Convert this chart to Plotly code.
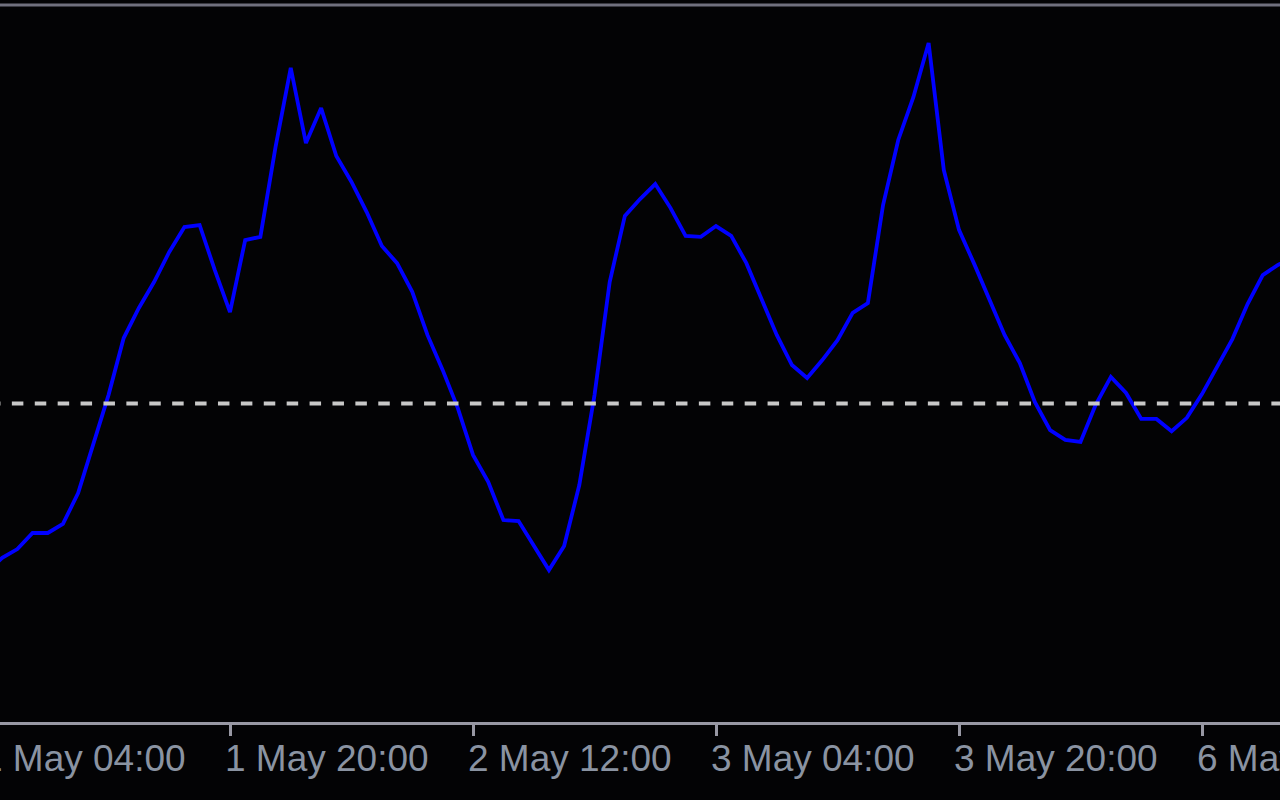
import plotly.graph_objects as go

# Bar index (hourly bars, weekend skipped) and indicator values
bars = list(range(0, 87))
values = [
    -48.1, -44.1, -41.6, -37.0, -37.0, -34.4, -25.6, -11.9, 2.4, 18.7,
    27.3, 34.7, 43.3, 50.4, 51.0, 38.1, 26.1, 46.7, 47.6, 73.3,
    95.9, 74.4, 84.4, 70.7, 63.3, 54.7, 45.0, 40.1, 31.9, 19.6,
    9.6, -1.3, -14.7, -22.4, -33.3, -33.6, -40.4, -47.6, -40.7, -23.3,
    2.4, 34.7, 53.6, 58.4, 62.7, 55.9, 47.9, 47.6, 50.7, 47.9,
    40.1, 30.1, 19.6, 11.0, 7.3, 12.4, 18.1, 25.9, 28.7, 56.7,
    75.3, 87.6, 103.0, 66.7, 49.6, 39.9, 29.6, 19.6, 11.6, 0.4,
    -7.6, -10.4, -11.0, -0.4, 7.6, 3.0, -4.4, -4.4, -7.9, -4.1,
    2.7, 10.4, 18.4, 28.4, 36.7, 39.6, 41.6,
]

tick_bars = [0, 16, 32, 48, 64, 80]
tick_labels = ["1 May 04:00", "1 May 20:00", "2 May 12:00",
               "3 May 04:00", "3 May 20:00", "6 May 12:00"]
level = 0.0

X_RANGE = [0.856, 85.136]
BG = "#030305"
AXIS = "#9898a4"
TEXT = "#8a93a2"

fig = go.Figure()
fig.add_trace(go.Scatter(x=bars, y=values, mode="lines",
                         line=dict(color="#0000ff", width=3.8),
                         hoverinfo="skip", showlegend=False))

fig.add_shape(type="line", xref="x", yref="y", x0=0.13, x1=90, y0=level, y1=level,
              line=dict(color="#c8c8c8", width=4, dash="11.5px,11.4px"))
fig.add_shape(type="line", xref="paper", yref="paper", x0=0, x1=1, y0=1, y1=1,
              line=dict(color="#70707e", width=3))

# tick labels start at their tick (MetaTrader style); position in paper units
span = X_RANGE[1] - X_RANGE[0]
for b, t in zip(tick_bars, tick_labels):
    fig.add_annotation(x=(b - X_RANGE[0]) / span, y=0, xref="paper", yref="paper",
                       text=t, showarrow=False,
                       xanchor="left", yanchor="middle", xshift=-7, yshift=-36,
                       font=dict(family="Liberation Sans, Arial, sans-serif", size=37, color=TEXT))

fig.update_layout(
    width=1280, height=800,
    margin=dict(l=0, r=0, t=5, b=78),
    paper_bgcolor=BG, plot_bgcolor=BG,
    showlegend=False,
)
fig.update_xaxes(range=X_RANGE, showgrid=False, zeroline=False,
                 showline=True, linecolor=AXIS, linewidth=3,
                 tickmode="array", tickvals=tick_bars, ticktext=["" for _ in tick_bars],
                 ticks="outside", ticklen=11, tickwidth=3, tickcolor=AXIS,
                 showticklabels=False)
fig.update_yaxes(range=[-91.0, 113.857], showgrid=False, zeroline=False,
                 showticklabels=False, showline=False)

fig.write_html("out.html", config={"displayModeBar": False},
               post_script="document.body.style.margin='0';document.body.style.background='#030305';")
